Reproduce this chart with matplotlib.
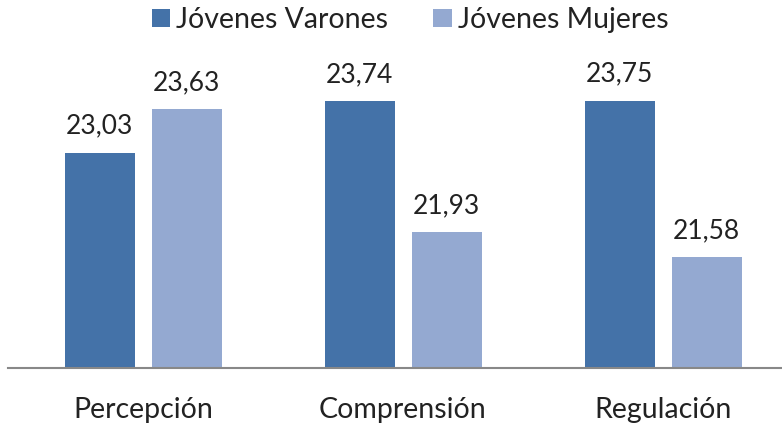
import matplotlib
matplotlib.use("Agg")
import matplotlib.pyplot as plt
from matplotlib.patches import Patch
import numpy as np

categories = ["Percepción", "Comprensión", "Regulación"]
series_names = ["Jóvenes Varones", "Jóvenes Mujeres"]
varones = [23.03, 23.74, 23.75]
mujeres = [23.63, 21.93, 21.58]
colors = ["#4472A8", "#94A9D1"]

plt.rcParams['font.family'] = ['Lato', 'DejaVu Sans']

fig = plt.figure(figsize=(7.82, 4.24), dpi=100)
W, H = 782, 424
left_px, right_px, top_px, bot_px = 8, 782, 79, 368
ax = fig.add_axes([left_px / W, 1 - bot_px / H, (right_px - left_px) / W, (bot_px - top_px) / H])

x = np.arange(len(categories))
bw = 70 / 260
off = 43.5 / 260
b1 = ax.bar(x - off, varones, bw, color=colors[0], label=series_names[0])
b2 = ax.bar(x + off, mujeres, bw, color=colors[1], label=series_names[1])

fmt = lambda v: f"{v:.2f}".replace(".", ",")
for bars, vals in ((b1, varones), (b2, mujeres)):
    ax.bar_label(bars, labels=[fmt(v) for v in vals], padding=10, fontsize=19, color="#222222")

ax.set_ylim(20.05, 24.05)
ax.set_xlim((left_px - 143) / 260, (right_px - 143) / 260)
ax.set_yticks([])
ax.set_xticks(x)
ax.set_xticklabels(categories, fontsize=20.5, color="#222222")
ax.tick_params(axis='x', length=0, pad=21)
for s in ["top", "right", "left"]:
    ax.spines[s].set_visible(False)
ax.spines["bottom"].set_color("#888888")
ax.spines["bottom"].set_linewidth(1.5)

handles = [Patch(facecolor=c, label=n) for c, n in zip(colors, series_names)]
fig.legend(handles=handles, loc="center", bbox_to_anchor=(410 / W, 1 - 20 / H), ncol=2,
           frameon=False, fontsize=20.5, handlelength=0.65, handleheight=0.62,
           handletextpad=0.2, columnspacing=1.6, labelcolor="#222222",
           borderpad=0, borderaxespad=0)

fig.savefig("out.png", dpi=100)
